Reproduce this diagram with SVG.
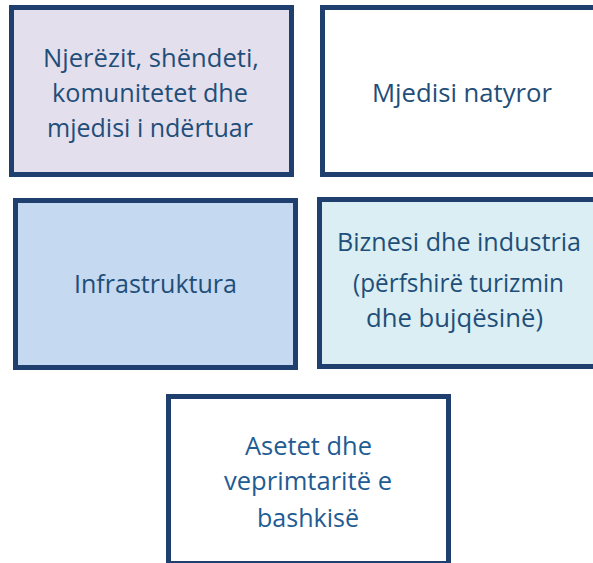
<svg xmlns="http://www.w3.org/2000/svg" width="593" height="563" viewBox="0 0 593 563">
<style>
.box{stroke:#1F3F6E;stroke-width:5;}
.t{font-family:"Open Sans","Liberation Sans",sans-serif;font-size:25px;fill:#1F4E79;text-anchor:middle;}
.t5{fill:#1F5C93;}
</style>
<rect width="593" height="563" fill="#FFFFFF"/>
<g id="node-njerezit">
<rect class="box" x="11.5" y="7.5" width="280" height="167" fill="#E4DFEC"/>
<text class="t" x="151" y="67" textLength="216" lengthAdjust="spacingAndGlyphs">Njerëzit, shëndeti,</text>
<text class="t" x="150" y="101.7" textLength="196" lengthAdjust="spacingAndGlyphs">komunitetet dhe</text>
<text class="t" x="150" y="136.7" textLength="206" lengthAdjust="spacingAndGlyphs">mjedisi i ndërtuar</text>
</g>
<g id="node-mjedisi">
<rect class="box" x="322.5" y="7.5" width="280" height="167" fill="#FFFFFF"/>
<text class="t" x="462" y="101.7" textLength="180" lengthAdjust="spacingAndGlyphs">Mjedisi natyror</text>
</g>
<g id="node-infrastruktura">
<rect class="box" x="15.5" y="200.5" width="280" height="167" fill="#C5D9F0"/>
<text class="t" x="155.5" y="293" textLength="163" lengthAdjust="spacingAndGlyphs">Infrastruktura</text>
</g>
<g id="node-biznesi">
<rect class="box" x="319.5" y="199.5" width="280" height="167" fill="#DAEEF3"/>
<text class="t" x="459" y="251" textLength="244" lengthAdjust="spacingAndGlyphs">Biznesi dhe industria</text>
<text class="t" x="458.5" y="291.7" textLength="211" lengthAdjust="spacingAndGlyphs">(përfshirë turizmin</text>
<text class="t" x="454.5" y="326.7" textLength="177" lengthAdjust="spacingAndGlyphs">dhe bujqësinë)</text>
</g>
<g id="node-asetet">
<rect class="box" x="168.5" y="396.5" width="280" height="167" fill="#FFFFFF"/>
<text class="t t5" x="308.5" y="455" textLength="127" lengthAdjust="spacingAndGlyphs">Asetet dhe</text>
<text class="t t5" x="308" y="490" textLength="168" lengthAdjust="spacingAndGlyphs">veprimtaritë e</text>
<text class="t t5" x="308" y="526.7" textLength="102" lengthAdjust="spacingAndGlyphs">bashkisë</text>
</g>
<g id="connectors"></g>
</svg>
